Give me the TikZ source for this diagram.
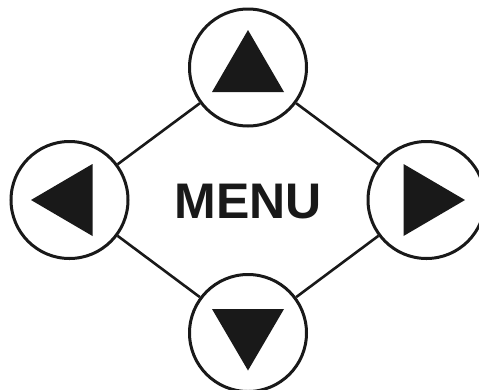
\documentclass[tikz,border=0pt]{standalone}
\usepackage{fontspec}
\setmainfont{Liberation Sans}
\begin{document}
\begin{tikzpicture}[x=1pt,y=-1pt,
  btn/.style={circle,draw=black!90,line width=3pt,minimum size=117pt,inner sep=0pt,fill=white},
  conn/.style={draw=black!90,line width=2.6pt},
  tri/.style={fill=black!90}]
\useasboundingbox (0,0) rectangle (479,389);
\clip (0,0) rectangle (479,389);
\node[btn] (up) at (248,67.5) {};
\node[btn] (left) at (69.5,200) {};
\node[btn] (right) at (426.5,200) {};
\node[btn] (down) at (248,333) {};
\draw[conn] (up) -- (left);
\draw[conn] (up) -- (right);
\draw[conn] (left) -- (down);
\draw[conn] (right) -- (down);
\fill[tri] ([shift={(0,-37.5)}]up.center) -- ([shift={(36,24.5)}]up.center) -- ([shift={(-36,24.5)}]up.center) -- cycle;
\fill[tri] ([shift={(0,37.5)}]down.center) -- ([shift={(36,-24)}]down.center) -- ([shift={(-36,-24)}]down.center) -- cycle;
\fill[tri] ([shift={(-38.5,0)}]left.center) -- ([shift={(23,-36)}]left.center) -- ([shift={(23,36)}]left.center) -- cycle;
\fill[tri] ([shift={(38.5,0)}]right.center) -- ([shift={(-23,-36)}]right.center) -- ([shift={(-23,36)}]right.center) -- cycle;
\node[inner sep=0pt,text=black!90,font=\fontsize{50}{50}\selectfont\bfseries] (menu) at (248,202) {MENU};
\end{tikzpicture}
\end{document}
